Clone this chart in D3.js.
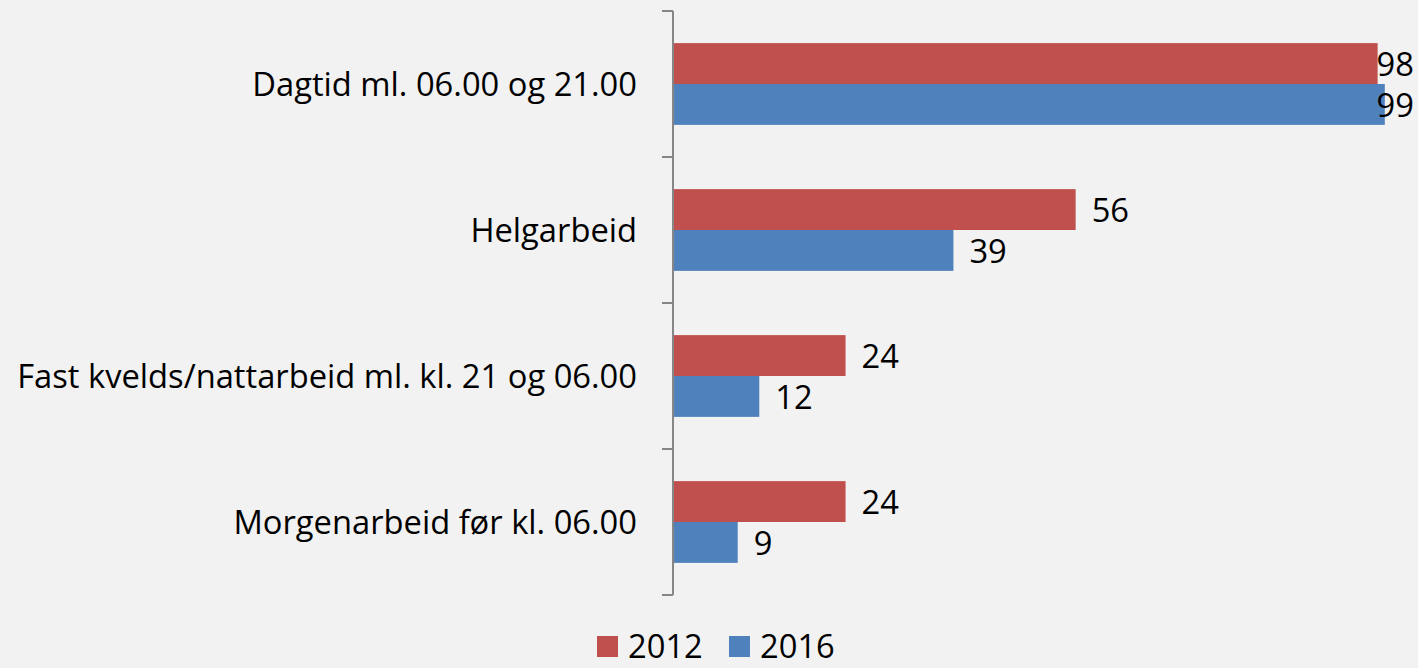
<!DOCTYPE html>
<html><head><meta charset="utf-8">
<script src="https://cdn.jsdelivr.net/npm/d3@7"></script>
<style>html,body{margin:0;padding:0;background:#f2f2f2;}svg{display:block;}</style>
</head><body>
<svg id="chart" width="1418" height="668"></svg>
<script>
const categories = ["Dagtid ml. 06.00 og 21.00", "Helgarbeid", "Fast kvelds/nattarbeid ml. kl. 21 og 06.00", "Morgenarbeid før kl. 06.00"];
const seriesNames = ["2012", "2016"];
const values2012 = [98, 56, 24, 24];
const values2016 = [99, 39, 12, 9];
const colors = ["#c0504d", "#4f81bd"];

const svg = d3.select("#chart");
const W = 1418, H = 668;
svg.append("rect").attr("width", W).attr("height", H).attr("fill", "#f2f2f2");

const font = "'Open Sans', 'Noto Sans', sans-serif";
const probe = svg.append("text").attr("font-family", font).attr("font-size", 30).text(categories[2]);
const w30 = probe.node().getComputedTextLength();
probe.remove();
const fs = 30 * 620 / w30;

const axisX = 673;
const y0 = d3.scaleBand().domain(categories).range([11, 595]).paddingInner(0.44).paddingOuter(0.22);
const y1 = d3.scaleBand().domain(seriesNames).range([0, y0.bandwidth()]);
const x = d3.scaleLinear().domain([0, 100]).range([axisX, axisX + 719]);

const data = categories.map((c, i) => ({cat: c, vals: [values2012[i], values2016[i]]}));

const g = svg.append("g");
data.forEach(d => {
  d.vals.forEach((v, j) => {
    const s = seriesNames[j];
    g.append("rect")
      .attr("x", x(0)).attr("y", y0(d.cat) + y1(s))
      .attr("width", x(v) - x(0)).attr("height", y1.bandwidth())
      .attr("fill", colors[j]);
    const t = g.append("text")
      .attr("font-family", font).attr("font-size", fs).attr("fill", "#000")
      .attr("dominant-baseline", "central")
      .attr("y", y0(d.cat) + y1(s) + y1.bandwidth() / 2)
      .text(v);
    const tw = t.node().getComputedTextLength();
    t.attr("x", Math.min(x(v) + 16, 1414 - tw));
  });
});

// axis
const tickYs = d3.range(categories.length + 1).map(i => 11 + i * (584 / categories.length));
const ax = svg.append("g").attr("stroke", "#868686").attr("stroke-width", 2);
ax.append("line").attr("x1", axisX).attr("x2", axisX).attr("y1", 11).attr("y2", 595);
tickYs.forEach(ty => ax.append("line").attr("x1", axisX - 11).attr("x2", axisX).attr("y1", ty).attr("y2", ty));

// category labels
categories.forEach(c => {
  svg.append("text").attr("font-family", font).attr("font-size", fs).attr("fill", "#000")
    .attr("text-anchor", "end").attr("dominant-baseline", "central")
    .attr("x", 637).attr("y", y0(c) + y0.bandwidth() / 2 - 1).text(c);
});

// legend
const leg = svg.append("g");
const legItems = [{name: seriesNames[0], color: colors[0], x: 597}, {name: seriesNames[1], color: colors[1], x: 729}];
legItems.forEach(l => {
  leg.append("rect").attr("x", l.x).attr("y", 636).attr("width", 21).attr("height", 21).attr("fill", l.color);
  leg.append("text").attr("font-family", font).attr("font-size", fs).attr("fill", "#000")
    .attr("dominant-baseline", "central").attr("x", l.x + 31).attr("y", 645).text(l.name);
});
</script>
</body></html>
